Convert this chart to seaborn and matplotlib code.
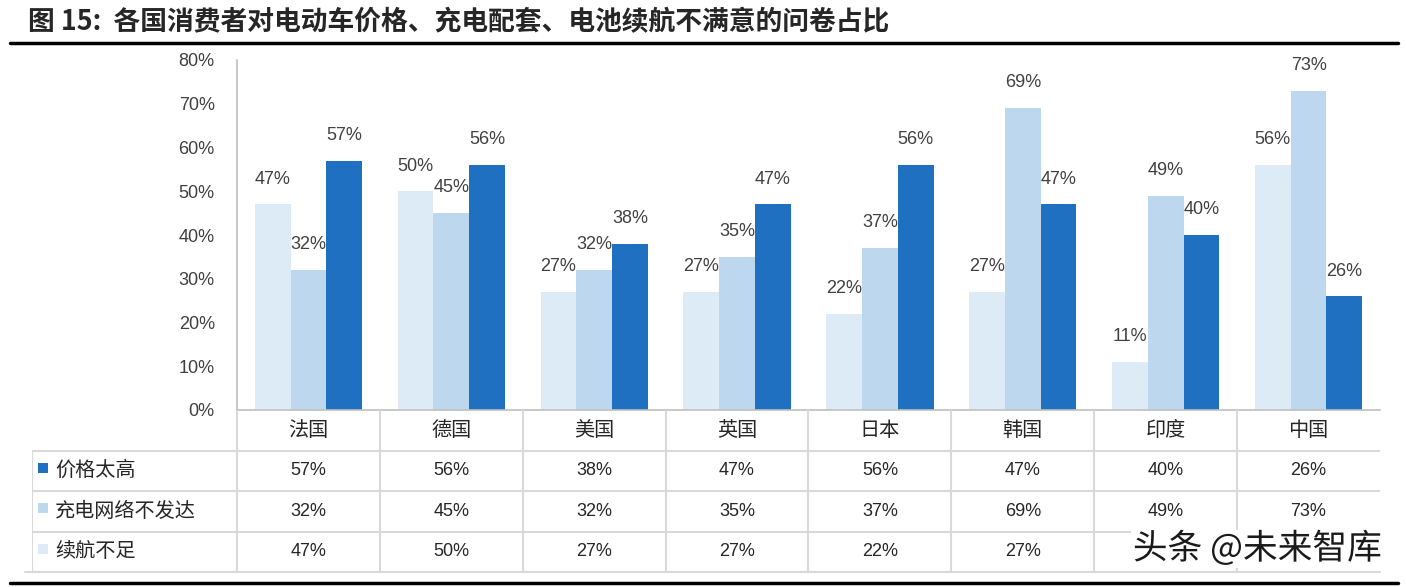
import numpy as np
import pandas as pd
import matplotlib
matplotlib.use("Agg")
import matplotlib.pyplot as plt
import matplotlib.patheffects as pe
import seaborn as sns

# 数据
countries = ["法国", "德国", "美国", "英国", "日本", "韩国", "印度", "中国"]
price_high = [57, 56, 38, 47, 56, 47, 40, 26]        # 价格太高
charging_poor = [32, 45, 32, 35, 37, 69, 49, 73]     # 充电网络不发达
range_short = [47, 50, 27, 27, 22, 27, 11, 56]       # 续航不足
series_names = ["续航不足", "充电网络不发达", "价格太高"]
table_rows = ["价格太高", "充电网络不发达", "续航不足"]

colors = {"续航不足": "#DDEBF7", "充电网络不发达": "#BDD7EE", "价格太高": "#1F70C1"}

values = {"价格太高": price_high, "充电网络不发达": charging_poor, "续航不足": range_short}
df = pd.DataFrame([
    {"country": c, "series": s, "pct": values[s][i] / 100}
    for s in series_names for i, c in enumerate(countries)
])

sns.set_style("white")
plt.rcParams["font.family"] = ["Liberation Sans", "Noto Sans CJK SC", "DejaVu Sans"]
CJK = ["Noto Sans CJK SC", "DejaVu Sans"]

W, H = 1406, 587
fig = plt.figure(figsize=(W / 100, H / 100), dpi=100)


def rect(x0, y0, x1, y1):
    return [x0 / W, 1 - y1 / H, (x1 - x0) / W, (y1 - y0) / H]


# 标题与上下横线
fig.text(28 / W, 1 - 22 / H, "图 15:  各国消费者对电动车价格、充电配套、电池续航不满意的问卷占比",
         fontsize=19.3, fontweight="bold", family=CJK, va="center", ha="left")
line_ax = fig.add_axes([0, 0, 1, 1])
line_ax.set_xlim(0, W)
line_ax.set_ylim(H, 0)
line_ax.axis("off")
line_ax.plot([10, 1398], [43, 43], color="black", lw=2.5)
line_ax.plot([10, 1398], [583, 583], color="black", lw=2.5)
line_ax.plot([25, 1380], [572, 572], color="#D9D9D9", lw=1.5)

# 柱状图
ax = fig.add_axes(rect(237, 60, 1380, 410))
sns.barplot(data=df, x="country", y="pct", hue="series", hue_order=series_names,
            order=countries, palette=colors, width=0.75, gap=0, linewidth=0,
            saturation=1, legend=False, ax=ax)
ax.set_ylim(0, 0.8)
ax.set_xlim(-0.5, len(countries) - 0.5)
ax.set_yticks(np.arange(0, 0.81, 0.1))
ax.set_yticklabels([f"{int(round(t * 100))}%" for t in np.arange(0, 0.81, 0.1)],
                   fontsize=13, color="#404040")
ax.tick_params(axis="y", length=0, pad=16)
ax.set_xticks([])
ax.set_xlabel("")
ax.set_ylabel("")
for side in ["top", "right"]:
    ax.spines[side].set_visible(False)
for side in ["left", "bottom"]:
    ax.spines[side].set_color("#BFBFBF")
    ax.spines[side].set_linewidth(1.2)
for cont in ax.containers:
    ax.bar_label(cont, labels=[f"{int(round(b.get_height() * 100))}%" for b in cont],
                 padding=12, fontsize=13, color="#404040")

# 数据表
left_w = 205 / 142.9
tab = fig.add_axes(rect(32, 410, 1380, 572))
tab.set_xlim(-0.5 - left_w, len(countries) - 0.5)
tab.set_ylim(4, 0)
tab.axis("off")
grid_c = "#D9D9D9"
for r in range(1, 5):
    tab.plot([-0.5 - left_w, len(countries) - 0.5], [r, r], color=grid_c, lw=1.5,
             solid_capstyle="butt")
tab.plot([-0.5 - left_w, -0.5 - left_w], [1, 4], color=grid_c, lw=1.5)
for i in range(len(countries)):
    tab.plot([i - 0.5, i - 0.5], [0, 4], color=grid_c, lw=1.5)
for i, c in enumerate(countries):
    tab.text(i, 0.5, c, ha="center", va="center", fontsize=14.5, family=CJK, color="#262626")
for r, name in enumerate(table_rows, start=1):
    tab.scatter([-0.5 - left_w + 0.08], [r + 0.42], marker="s", s=60,
                color=colors[name], linewidths=0)
    tab.text(-0.5 - left_w + 0.16, r + 0.5, name, ha="left", va="center",
             fontsize=14.5, family=CJK, color="#262626")
    for i, v in enumerate(values[name]):
        tab.text(i, r + 0.5, f"{v}%", ha="center", va="center", fontsize=13,
                 color="#262626")

# 水印（与原图一样压在表格最后一行上）
fig.text(1382 / W, 1 - 549 / H, "头条 @未来智库", ha="right", va="center",
         fontsize=25, family=CJK, color="#1A1A1A", zorder=10,
         bbox=dict(facecolor="white", edgecolor="none", pad=1),
         path_effects=[pe.withStroke(linewidth=3, foreground="white")])

fig.savefig("out.png", dpi=100)
